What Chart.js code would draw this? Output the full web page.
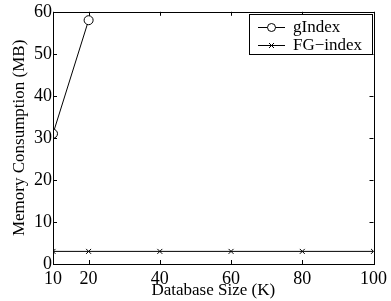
<!DOCTYPE html>
<html><head><meta charset="utf-8">
<script src="https://cdn.jsdelivr.net/npm/chart.js@4"></script>
<style>html,body{margin:0;padding:0;background:#fff}#wrap{width:391px;height:301px}</style>
</head><body><div id="wrap"><canvas id="c" width="391" height="301"></canvas></div>
<script>
const xTicks = [10, 20, 40, 60, 80, 100];
const yTicks = [0, 10, 20, 30, 40, 50, 60];
const gIndexX = [10, 20];
const gIndexY = [31, 58];
const fgIndexX = [10, 20, 40, 60, 80, 100];
const fgIndexY = [3, 3, 3, 3, 3, 3];
const seriesLabels = ['gIndex', 'FG\u2212index'];
const xTitle = 'Database Size (K)';
const yTitle = 'Memory Consumption (MB)';

const FONT = '"Liberation Serif", "Times New Roman", serif';

const framePlugin = {
  id: 'frame',
  afterDatasetsDraw(chart) {
    const {ctx, chartArea: a, scales} = chart;
    ctx.save();
    ctx.strokeStyle = '#000';
    ctx.lineWidth = 1;
    ctx.strokeRect(Math.round(a.left) + 0.5, Math.round(a.top) + 0.5, Math.round(a.right - a.left), Math.round(a.bottom - a.top));
    const t = 4;
    ctx.beginPath();
    xTicks.forEach(v => {
      const x = Math.round(scales.x.getPixelForValue(v)) + 0.5;
      ctx.moveTo(x, a.bottom); ctx.lineTo(x, a.bottom - t);
      ctx.moveTo(x, a.top); ctx.lineTo(x, a.top + t);
    });
    yTicks.forEach(v => {
      const y = Math.round(scales.y.getPixelForValue(v)) + 0.5;
      ctx.moveTo(a.left, y); ctx.lineTo(a.left + t, y);
      ctx.moveTo(a.right, y); ctx.lineTo(a.right - t, y);
    });
    ctx.stroke();
    // legend
    const bx = 249.5, by = 14.5, bw = 123, bh = 40;
    ctx.fillStyle = '#fff';
    ctx.fillRect(bx, by, bw, bh);
    ctx.strokeRect(bx, by, bw, bh);
    ctx.font = '17px ' + FONT;
    ctx.textBaseline = 'middle';
    ctx.textAlign = 'left';
    const rows = [27, 45];
    chart.data.datasets.forEach((ds, i) => {
      const y = rows[i] + 0.5;
      ctx.strokeStyle = '#000';
      ctx.beginPath(); ctx.moveTo(258, y); ctx.lineTo(285, y); ctx.stroke();
      if (ds.pointStyle === 'circle') {
        ctx.fillStyle = '#fff';
        ctx.beginPath(); ctx.arc(271.5, y, 4, 0, Math.PI * 2); ctx.fill(); ctx.stroke();
      } else {
        ctx.beginPath();
        ctx.moveTo(269, y - 2.5); ctx.lineTo(274, y + 2.5);
        ctx.moveTo(274, y - 2.5); ctx.lineTo(269, y + 2.5);
        ctx.stroke();
      }
      ctx.fillStyle = '#000';
      ctx.fillText(ds.label, 293, rows[i] + 1);
    });
    ctx.restore();
  }
};

new Chart(document.getElementById('c'), {
  type: 'scatter',
  data: {
    datasets: [
      {
        label: seriesLabels[0],
        data: gIndexX.map((x, i) => ({x, y: gIndexY[i]})),
        showLine: true,
        borderColor: '#000', borderWidth: 1,
        pointStyle: 'circle', pointRadius: 4.5, pointBorderWidth: 1,
        pointBackgroundColor: '#fff', pointBorderColor: '#000'
      },
      {
        label: seriesLabels[1],
        data: fgIndexX.map((x, i) => ({x, y: fgIndexY[i]})),
        showLine: true,
        borderColor: '#000', borderWidth: 1,
        pointStyle: 'crossRot', pointRadius: 3.5, pointBorderWidth: 1,
        pointBorderColor: '#000'
      }
    ]
  },
  options: {
    responsive: false,
    animation: false,
    events: [],
    layout: {padding: {top: 10, right: 15, left: 0, bottom: 0}},
    plugins: {legend: {display: false}, tooltip: {enabled: false}},
    scales: {
      x: {
        type: 'linear', min: 10, max: 100,
        afterBuildTicks(s) { s.ticks = xTicks.map(v => ({value: v})); },
        afterFit(s) { s.height = 37; },
        grid: {display: false, drawTicks: false},
        border: {display: false},
        ticks: {color: '#000', font: {family: FONT, size: 18}, padding: 4, maxRotation: 0, autoSkip: false},
        title: {display: true, text: xTitle, color: '#000', font: {family: FONT, size: 17}, padding: {top: 0, bottom: 0}}
      },
      y: {
        type: 'linear', min: 0, max: 60,
        afterBuildTicks(s) { s.ticks = yTicks.map(v => ({value: v})); },
        afterFit(s) { s.width = 53; },
        grid: {display: false, drawTicks: false},
        border: {display: false},
        ticks: {color: '#000', font: {family: FONT, size: 18}, padding: 1, autoSkip: false},
        title: {display: true, text: yTitle, color: '#000', font: {family: FONT, size: 17}, padding: {top: 9, bottom: 0}}
      }
    }
  },
  plugins: [framePlugin]
});
</script></body></html>
